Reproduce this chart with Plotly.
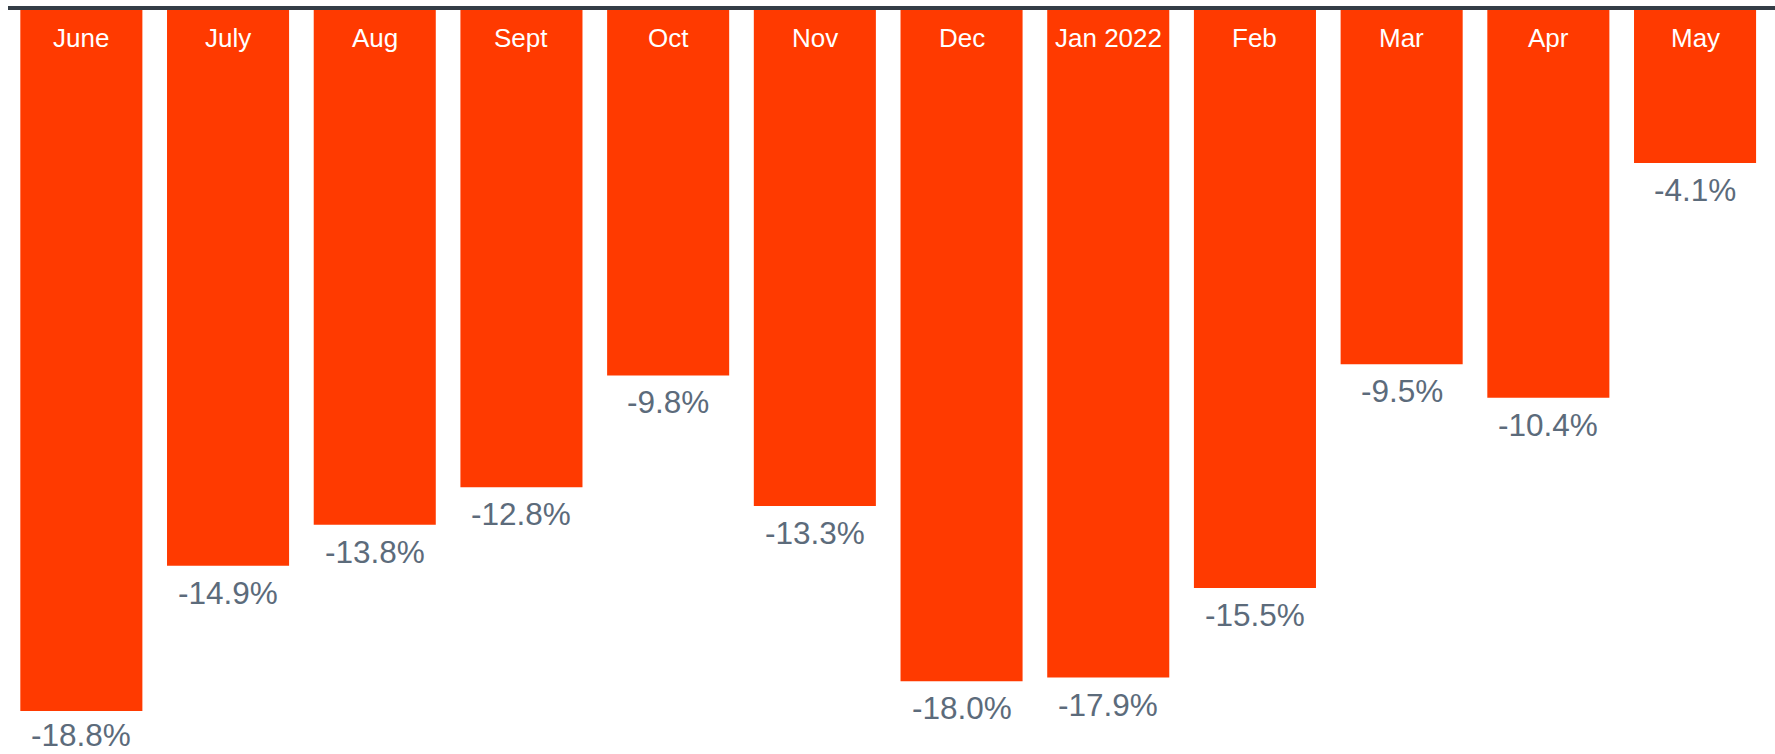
import plotly.graph_objects as go

# Monthly change, June 2021 through May 2022 (percent)
months = ["June", "July", "Aug", "Sept", "Oct", "Nov", "Dec",
          "Jan 2022", "Feb", "Mar", "Apr", "May"]
change_pct = [-18.8, -14.9, -13.8, -12.8, -9.8, -13.3, -18.0,
              -17.9, -15.5, -9.5, -10.4, -4.1]
value_labels = [f"{v:.1f}%" for v in change_pct]

BAR_COLOR = "#FF3A00"
LABEL_COLOR = "#5C6B7B"
AXIS_COLOR = "#343D46"
FONT = "Arial, Liberation Sans, sans-serif"

WIDTH, HEIGHT = 1775, 754
Y_RANGE = [-19.95, 0.268]
PX_PER_UNIT = HEIGHT / (Y_RANGE[1] - Y_RANGE[0])
LABEL_SIZE = 31.5
LABEL_GAP = 27

x_pos = list(range(len(months)))

fig = go.Figure(
    go.Bar(
        x=x_pos,
        y=change_pct,
        marker=dict(color=BAR_COLOR, line=dict(width=0)),
        hoverinfo="skip",
    )
)

# Month names inside the top of each bar
for xi, name in zip(x_pos, months):
    fig.add_annotation(
        x=xi, y=0, xref="x", yref="y",
        text=name, showarrow=False,
        yanchor="middle", yshift=-28.5,
        font=dict(family=FONT, size=26, color="white"),
    )

# Value labels below each bar end, nudged up if they would run off the canvas
for xi, v, lab in zip(x_pos, change_pct, value_labels):
    room_below = (v - Y_RANGE[0]) * PX_PER_UNIT
    gap = min(LABEL_GAP, room_below - 0.6 * LABEL_SIZE)
    fig.add_annotation(
        x=xi, y=v, xref="x", yref="y",
        text=lab, showarrow=False,
        yanchor="middle", yshift=-gap,
        font=dict(family=FONT, size=LABEL_SIZE, color=LABEL_COLOR),
    )

# Baseline rule across the top
fig.add_shape(
    type="line", xref="paper", yref="y",
    x0=0, x1=1.01, y0=0.054, y1=0.054,
    line=dict(color=AXIS_COLOR, width=4),
    layer="above",
)

fig.update_layout(
    width=WIDTH, height=HEIGHT,
    margin=dict(l=8, r=0, t=0, b=0),
    paper_bgcolor="white", plot_bgcolor="white",
    bargap=0.168,
    showlegend=False,
    xaxis=dict(range=[-0.5, 11.545], visible=False, fixedrange=True),
    yaxis=dict(range=Y_RANGE, visible=False, fixedrange=True),
)

fig.write_html("out.html", config={"displayModeBar": False})
